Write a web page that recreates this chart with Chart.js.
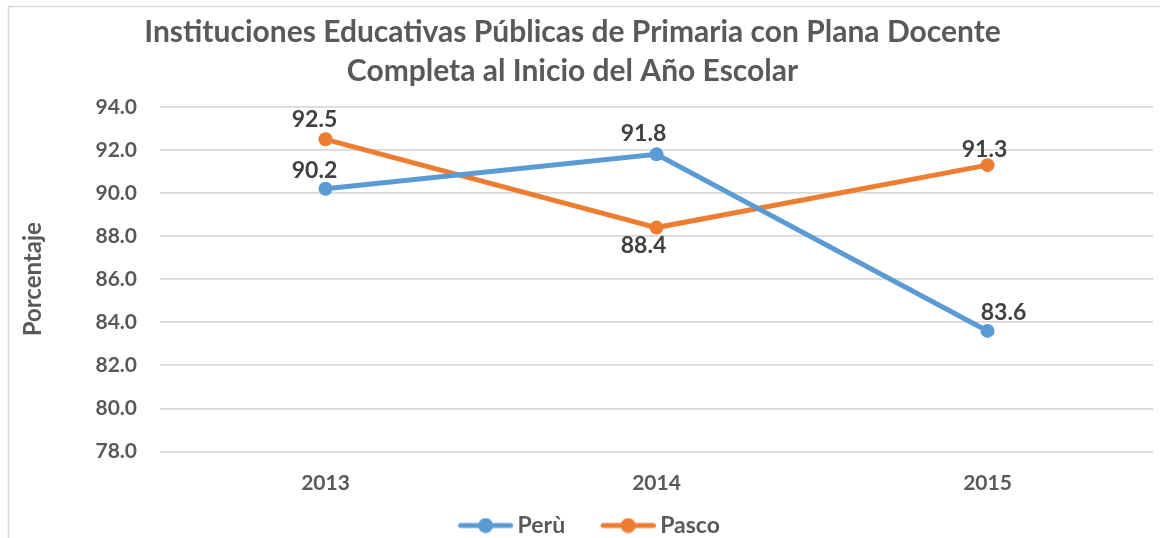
<!DOCTYPE html>
<html>
<head>
<meta charset="utf-8">
<script src="https://cdn.jsdelivr.net/npm/chart.js@4.4.1/dist/chart.umd.min.js"></script>
<style>
  html, body { margin: 0; padding: 0; background: #ffffff; }
  #wrap { width: 1160px; height: 538px; position: relative; }
</style>
</head>
<body>
<div id="wrap"><canvas id="c" width="1160" height="538"></canvas></div>
<script>
const categories = ['2013', '2014', '2015'];
const peruValues = [90.2, 91.8, 83.6];
const pascoValues = [92.5, 88.4, 91.3];
const yTicks = [78, 80, 82, 84, 86, 88, 90, 92, 94];

const FONT = 'Lato, "Open Sans", sans-serif';
const BLUE = '#5B9BD5';
const ORANGE = '#ED7D31';

// legend icon: line with a circle marker (box width 82, canvas overhangs 7px each side)
function legendIcon(color) {
  const cv = document.createElement('canvas');
  cv.width = 96; cv.height = 16;
  const g = cv.getContext('2d');
  g.strokeStyle = color; g.lineWidth = 5; g.lineCap = 'round';
  g.beginPath(); g.moveTo(96 - 55 + 2.5, 8); g.lineTo(96 - 2.5, 8); g.stroke();
  g.fillStyle = color;
  g.beginPath(); g.arc(96 - 27.5, 8, 7.5, 0, Math.PI * 2); g.fill();
  return cv;
}

const frame = {
  id: 'frame',
  beforeDraw(chart) {
    if (chart.titleBlock) { chart.titleBlock.left = 8; chart.titleBlock.right = 1137; }
    if (chart.legend) { chart.legend.left = 8; chart.legend.right = 1136; }
    const ctx = chart.ctx;
    ctx.save();
    ctx.fillStyle = '#ffffff';
    ctx.fillRect(0, 0, chart.width, chart.height);
    ctx.strokeStyle = '#d9d9d9';
    ctx.lineWidth = 1.5;
    ctx.beginPath();
    ctx.moveTo(8.5, chart.height);
    ctx.lineTo(8.5, 6.5);
    ctx.lineTo(chart.width, 6.5);
    ctx.stroke();
    ctx.restore();
  }
};

const dataLabels = {
  id: 'dataLabels',
  afterDatasetsDraw(chart, args, opts) {
    const ctx = chart.ctx;
    ctx.save();
    ctx.font = 'bold 23px ' + FONT;
    ctx.fillStyle = '#404040';
    ctx.textAlign = 'center';
    ctx.textBaseline = 'middle';
    chart.data.datasets.forEach((ds, i) => {
      const meta = chart.getDatasetMeta(i);
      meta.data.forEach((pt, j) => {
        const off = opts.offsets[i][j];
        ctx.fillText(ds.data[j].toFixed(1), pt.x + off.dx, pt.y + off.dy);
      });
    });
    ctx.restore();
  }
};

new Chart(document.getElementById('c'), {
  type: 'line',
  data: {
    labels: categories,
    datasets: [
      {
        label: 'Perù', data: peruValues,
        borderColor: BLUE, backgroundColor: BLUE, borderWidth: 5,
        pointRadius: 7, pointHoverRadius: 7, pointBackgroundColor: BLUE, pointBorderWidth: 0,
        tension: 0, fill: false
      },
      {
        label: 'Pasco', data: pascoValues,
        borderColor: ORANGE, backgroundColor: ORANGE, borderWidth: 5,
        pointRadius: 7, pointHoverRadius: 7, pointBackgroundColor: ORANGE, pointBorderWidth: 0,
        tension: 0, fill: false
      }
    ]
  },
  options: {
    responsive: false,
    animation: false,
    devicePixelRatio: 1,
    layout: { padding: { left: 8, right: 0, top: 0, bottom: -9 } },
    plugins: {
      tooltip: { enabled: false },
      dataLabels: {
        offsets: [
          [{ dx: -11, dy: -18 }, { dx: -13, dy: -21 }, { dx: 16, dy: -18 }],
          [{ dx: -11, dy: -20 }, { dx: -13, dy: 18 }, { dx: -3, dy: -16 }]
        ]
      },
      title: {
        display: true,
        text: ['Instituciones Educativas Públicas de Primaria con Plana Docente', 'Completa al Inicio del Año Escolar'],
        color: '#595959',
        font: { family: FONT, size: 30, weight: 'bold', lineHeight: 1.3 },
        padding: { top: 12.5, bottom: 16.5 }
      },
      legend: {
        position: 'bottom',
        labels: {
          color: '#595959',
          font: { family: FONT, size: 23, weight: 'bold' },
          usePointStyle: true,
          pointStyleWidth: 82,
          padding: 1.5,
          generateLabels(chart) {
            return chart.data.datasets.map((ds, i) => ({
              text: ds.label,
              fontColor: '#595959',
              pointStyle: legendIcon(ds.borderColor),
              fillStyle: ds.borderColor,
              strokeStyle: ds.borderColor,
              lineWidth: 0,
              hidden: false,
              datasetIndex: i
            }));
          }
        }
      }
    },
    scales: {
      x: {
        offset: true,
        grid: { display: false, drawTicks: false },
        border: { display: false },
        ticks: { color: '#595959', font: { family: FONT, size: 21, weight: 'bold' }, padding: 19 },
        afterFit(scale) { scale.height = 61; scale.paddingLeft = 0; scale.paddingRight = 0; }
      },
      y: {
        min: 78, max: 94,
        afterBuildTicks(scale) { scale.ticks = yTicks.map(v => ({ value: v })); },
        grid: { color: '#d9d9d9', lineWidth: 1.8, drawTicks: false },
        border: { display: false },
        ticks: {
          color: '#595959', font: { family: FONT, size: 21, weight: 'bold' }, padding: 23,
          callback: v => Number(v).toFixed(1)
        },
        title: {
          display: true, text: 'Porcentaje', color: '#595959',
          font: { family: FONT, size: 24, weight: 'bold' }, padding: { top: 10.6, bottom: 0 }
        },
        afterFit(scale) { scale.width = 152; }
      }
    }
  },
  plugins: [frame, dataLabels]
});
</script>
</body>
</html>
